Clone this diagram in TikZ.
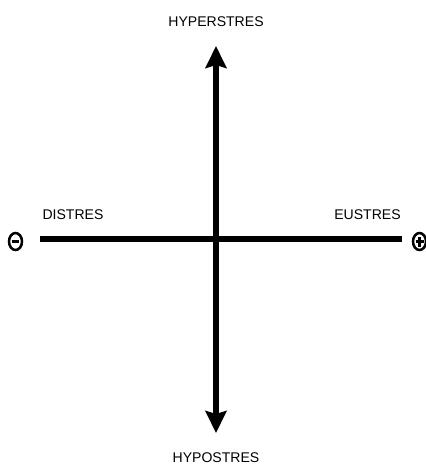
\documentclass[tikz,border=0pt]{standalone}
\usepackage{fontspec}
\setmainfont{Liberation Sans}
\usetikzlibrary{arrows.meta,positioning,shapes.geometric}
\tikzset{
  lbl/.style={font=\fontsize{8}{9}\selectfont,inner sep=0pt},
  axis/.style={line width=0.12cm},
  arr/.style={axis,{Stealth[length=0.44cm,width=0.42cm,inset=0.06cm]}-{Stealth[length=0.44cm,width=0.42cm,inset=0.06cm]}},
  sgn/.style={draw,ellipse,line width=0.05cm,minimum width=0.26cm,minimum height=0.34cm,inner sep=0pt},
  bar/.style={line width=0.045cm},
}
\begin{document}
\begin{tikzpicture}[x=0.02cm,y=-0.02cm]
\useasboundingbox (0,0) rectangle (426,464);
\coordinate (o) at (216,238.5);
\coordinate (top) at (216,46);
\coordinate (bot) at (216,433);
\coordinate (lft) at (40,238.5);
\coordinate (rgt) at (402,238.5);
% axes
\draw[arr] (top) -- (bot);
\draw[axis] (lft) -- (rgt);
% signs
\node[sgn] (neg) at (15.5,241.5) {};
\draw[bar] ([xshift=-0.08cm]neg.center) -- ([xshift=0.08cm]neg.center);
\node[sgn] (pos) at (419.5,241.5) {};
\draw[bar] ([xshift=-0.08cm]pos.center) -- ([xshift=0.08cm]pos.center);
\draw[bar] ([yshift=-0.1cm]pos.center) -- ([yshift=0.1cm]pos.center);
% labels
\node[lbl] (hyper) at (216,22) {HYPERSTRES};
\node[lbl] (hypo) at (216,458) {HYPOSTRES};
\node[lbl] (dis) at (73,215) {DISTRES};
\node[lbl] (eu) at (367.5,215) {EUSTRES};
\end{tikzpicture}
\end{document}
